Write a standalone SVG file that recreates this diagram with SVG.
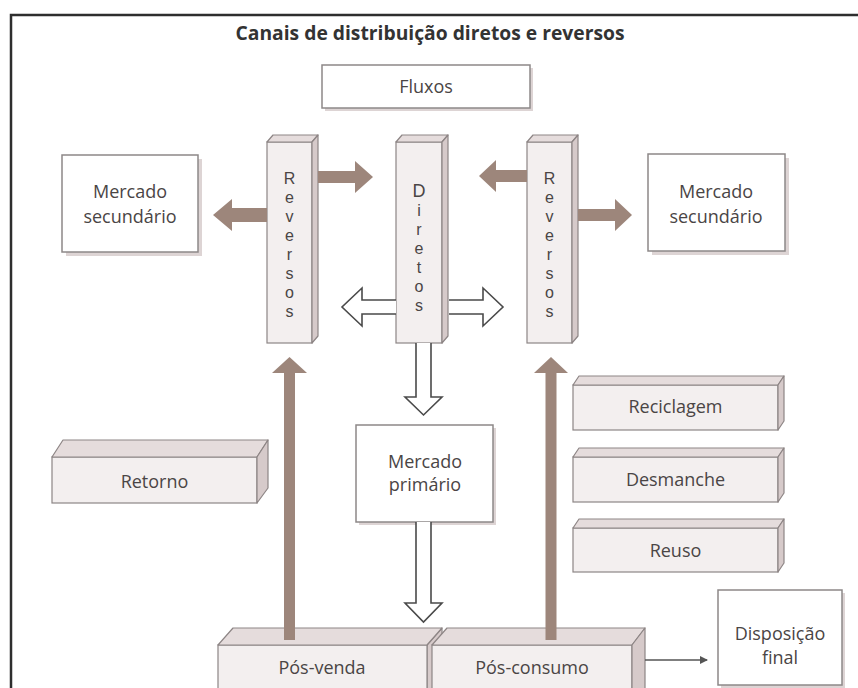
<svg xmlns="http://www.w3.org/2000/svg" width="858" height="688" viewBox="0 0 858 688">
<style>
text { font-family: "Open Sans", "Liberation Sans", sans-serif; fill: #4a4545; font-size: 18px; }
.title { font-size: 19px; font-weight: 700; fill: #333; }
.vl { font-family: "Liberation Sans", Arial, sans-serif; font-size: 16px; }
.box { fill: #fff; stroke: #8d8888; stroke-width: 1.5; }
.shadow { fill: #ddd4d4; }
.front { fill: #f3efef; stroke: #8d8585; stroke-width: 1.2; }
.top { fill: #e5dcdc; stroke: #8d8585; stroke-width: 1.2; stroke-linejoin: round; }
.side { fill: #d6caca; stroke: #8d8585; stroke-width: 1.2; stroke-linejoin: round; }
.brown { fill: #9d867b; }
.hollow { fill: #fff; stroke: #4a4a4a; stroke-width: 1.6; stroke-linejoin: miter; }
.thin { stroke: #555; stroke-width: 1.5; fill: none; }
</style>
<defs>
<marker id="ah" markerWidth="8" markerHeight="8" refX="7" refY="4" orient="auto" markerUnits="userSpaceOnUse">
<path d="M0,0 L8,4 L0,8 Z" fill="#555"/>
</marker>
</defs>

<path d="M11,688 V15 H858" fill="none" stroke="#2e2e2e" stroke-width="2.5"/>
<text class="title" x="430" y="40" text-anchor="middle" textLength="389" lengthAdjust="spacingAndGlyphs">Canais de distribuição diretos e reversos</text>

<g id="fluxos">
<rect class="shadow" x="325" y="68" width="208" height="43"/>
<rect class="box" x="322" y="65" width="208" height="43"/>
<text x="426" y="93" text-anchor="middle">Fluxos</text>
</g>

<g id="mercado-secundario-esq">
<rect class="shadow" x="66" y="159" width="136" height="97"/>
<rect class="box" x="62" y="155" width="136" height="97"/>
<text x="130" y="198" text-anchor="middle">Mercado</text>
<text x="130" y="223" text-anchor="middle">secundário</text>
</g>

<g id="mercado-secundario-dir">
<rect class="shadow" x="652" y="158" width="137" height="97"/>
<rect class="box" x="648" y="154" width="137" height="97"/>
<text x="716" y="198" text-anchor="middle">Mercado</text>
<text x="716" y="223" text-anchor="middle">secundário</text>
</g>

<g id="reversos-esq">
<rect class="front" x="267" y="142" width="45" height="201"/>
<polygon class="top" points="267,142 273,135 318,135 312,142"/>
<polygon class="side" points="312,142 318,135 318,336 312,343"/>
<text class="vl" text-anchor="middle"><tspan x="289.5" y="184">R</tspan><tspan x="289.5" y="203">e</tspan><tspan x="289.5" y="222">v</tspan><tspan x="289.5" y="241">e</tspan><tspan x="289.5" y="260">r</tspan><tspan x="289.5" y="279">s</tspan><tspan x="289.5" y="298">o</tspan><tspan x="289.5" y="317">s</tspan></text>
</g>

<g id="diretos">
<rect class="front" x="396" y="142" width="46" height="201"/>
<polygon class="top" points="396,142 402,135 448,135 442,142"/>
<polygon class="side" points="442,142 448,135 448,336 442,343"/>
<text class="vl" text-anchor="middle"><tspan x="419" y="197" font-size="18">D</tspan><tspan x="419" y="216">i</tspan><tspan x="419" y="235">r</tspan><tspan x="419" y="254">e</tspan><tspan x="419" y="273">t</tspan><tspan x="419" y="292">o</tspan><tspan x="419" y="311">s</tspan></text>
</g>

<g id="reversos-dir">
<rect class="front" x="527" y="142" width="45" height="201"/>
<polygon class="top" points="527,142 533,135 578,135 572,142"/>
<polygon class="side" points="572,142 578,135 578,336 572,343"/>
<text class="vl" text-anchor="middle"><tspan x="549.5" y="184">R</tspan><tspan x="549.5" y="203">e</tspan><tspan x="549.5" y="222">v</tspan><tspan x="549.5" y="241">e</tspan><tspan x="549.5" y="260">r</tspan><tspan x="549.5" y="279">s</tspan><tspan x="549.5" y="298">o</tspan><tspan x="549.5" y="317">s</tspan></text>
</g>

<g id="mercado-primario">
<rect class="shadow" x="359" y="428" width="137" height="97"/>
<rect class="box" x="356" y="425" width="137" height="97"/>
<text x="425" y="468" text-anchor="middle">Mercado</text>
<text x="425" y="491" text-anchor="middle">primário</text>
</g>

<g id="retorno">
<rect class="front" x="52" y="457" width="205" height="46"/>
<polygon class="top" points="52,457 63,440 268,440 257,457"/>
<polygon class="side" points="257,457 268,440 268,488 257,503"/>
<text x="154.5" y="488" text-anchor="middle">Retorno</text>
</g>

<g id="reciclagem">
<rect class="front" x="573" y="385" width="205" height="45"/>
<polygon class="top" points="573,385 579,376 784,376 778,385"/>
<polygon class="side" points="778,385 784,376 784,421 778,430"/>
<text x="675.5" y="413" text-anchor="middle">Reciclagem</text>
</g>

<g id="desmanche">
<rect class="front" x="573" y="457" width="205" height="45"/>
<polygon class="top" points="573,457 579,448 784,448 778,457"/>
<polygon class="side" points="778,457 784,448 784,493 778,502"/>
<text x="675.5" y="486" text-anchor="middle">Desmanche</text>
</g>

<g id="reuso">
<rect class="front" x="573" y="528" width="205" height="44"/>
<polygon class="top" points="573,528 579,519 784,519 778,528"/>
<polygon class="side" points="778,528 784,519 784,563 778,572"/>
<text x="675.5" y="557" text-anchor="middle">Reuso</text>
</g>

<g id="pos-venda">
<polygon class="side" points="427,645 442,628 442,690 427,690"/>
<rect class="front" x="218" y="645" width="209" height="50"/>
<polygon class="top" points="218,645 233,628 442,628 427,645"/>
<text x="322" y="674" text-anchor="middle">Pós-venda</text>
</g>

<g id="pos-consumo">
<rect class="front" x="432" y="645" width="200" height="50"/>
<polygon class="top" points="432,645 447,628 645,628 632,645"/>
<polygon class="side" points="632,645 645,628 645,690 632,690"/>
<text x="532" y="674" text-anchor="middle">Pós-consumo</text>
</g>

<g id="disposicao-final">
<rect class="shadow" x="721" y="593" width="124" height="95"/>
<rect class="box" x="718" y="590" width="124" height="95"/>
<text x="780" y="640" text-anchor="middle">Disposição</text>
<text x="780" y="664" text-anchor="middle">final</text>
</g>

<g id="connectors">
<polygon class="brown" points="267,208 232,208 232,199 213,215 232,231 232,222 267,222"/>
<polygon class="brown" points="318,171 355,171 355,161 373,177 355,193 355,183 318,183"/>
<polygon class="brown" points="527,170 496,170 496,160 479,176 496,192 496,182 527,182"/>
<polygon class="brown" points="578,209 615,209 615,199 632,215 615,231 615,221 578,221"/>
<polygon class="brown" points="284,640 284,373 272,373 289.5,357 307,373 295,373 295,640"/>
<polygon class="brown" points="545.5,640 545.5,373 534,373 551,357 568,373 556.5,373 556.5,640"/>
<path class="hollow" d="M396,300 H362 V288 L342,307 L362,326 V314 H396"/>
<path class="hollow" d="M449,300 H483 V288 L503,307 L483,326 V314 H449"/>
<path class="hollow" d="M416,343 V397 H405 L423.5,415 L442,397 H431 V343"/>
<path class="hollow" d="M416,522 V603 H405 L423.5,622 L442,603 H431 V522"/>
<line class="thin" x1="645" y1="660" x2="707" y2="660" marker-end="url(#ah)"/>
</g>
</svg>
